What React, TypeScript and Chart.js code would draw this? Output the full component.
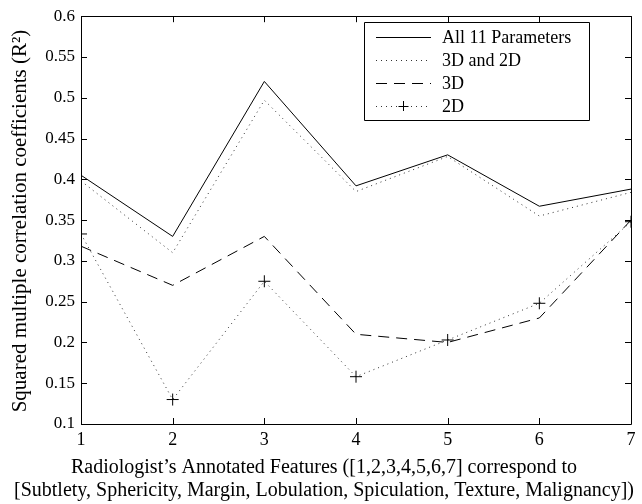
import React, { useEffect, useRef } from "react";
import { Chart, registerables } from "chart.js";

Chart.register(...registerables);

const features = [1, 2, 3, 4, 5, 6, 7];
const all11 = [0.405, 0.33, 0.52, 0.392, 0.43, 0.367, 0.388];
const d3and2 = [0.398, 0.31, 0.497, 0.385, 0.428, 0.355, 0.384];
const d3 = [0.318, 0.27, 0.33, 0.21, 0.2, 0.23, 0.35];
const d2 = [0.333, 0.13, 0.275, 0.158, 0.203, 0.248, 0.348];
const seriesNames = ["All 11 Parameters", "3D and 2D", "3D", "2D"];
const yTitle = "Squared multiple correlation coefficients (R²)";
const xTitle = [
  "Radiologist’s Annotated Features ([1,2,3,4,5,6,7] correspond to",
  "[Subtlety, Sphericity, Margin, Lobulation, Spiculation, Texture, Malignancy])",
];

const FONT = "'Liberation Serif', 'Times New Roman', serif";

const boxPlugin = {
  id: "boxTicks",
  afterDraw(chart: any) {
    const ctx = chart.ctx;
    const { left, right, top, bottom } = chart.chartArea;
    ctx.save();
    ctx.strokeStyle = "#000";
    ctx.lineWidth = 1;
    ctx.beginPath();
    ctx.rect(Math.round(left) + 0.5, Math.round(top) + 0.5, Math.round(right - left), Math.round(bottom - top));
    ctx.stroke();
    const ys = chart.scales.y;
    const xs = chart.scales.x;
    const tl = 6;
    ctx.beginPath();
    ys.ticks.forEach((t: any) => {
      const y = Math.round(ys.getPixelForValue(t.value)) + 0.5;
      ctx.moveTo(left, y);
      ctx.lineTo(left + tl, y);
      ctx.moveTo(right, y);
      ctx.lineTo(right - tl, y);
    });
    xs.ticks.forEach((t: any) => {
      const x = Math.round(xs.getPixelForValue(t.value)) + 0.5;
      ctx.moveTo(x, bottom);
      ctx.lineTo(x, bottom - tl);
      ctx.moveTo(x, top);
      ctx.lineTo(x, top + tl);
    });
    ctx.stroke();

    // axis titles
    ctx.fillStyle = "#000";
    ctx.font = `20px ${FONT}`;
    ctx.textAlign = "center";
    ctx.textBaseline = "middle";
    ctx.fillText(xTitle[0], 324, 468);
    ctx.fillText(xTitle[1], 324, 491);
    ctx.save();
    ctx.font = `21px ${FONT}`;
    ctx.translate(20, 221);
    ctx.rotate(-Math.PI / 2);
    ctx.fillText(yTitle, 0, 0);
    ctx.restore();

    // legend
    const lx = 364, ly = 22, lw = 225, lh = 98;
    ctx.fillStyle = "#fff";
    ctx.fillRect(lx, ly, lw, lh);
    ctx.beginPath();
    ctx.rect(lx + 0.5, ly + 0.5, lw, lh);
    ctx.stroke();
    ctx.font = `18px ${FONT}`;
    ctx.textBaseline = "middle";
    ctx.textAlign = "left";
    chart.data.datasets.forEach((ds: any, i: number) => {
      const y = ly + 15 + i * 23;
      ctx.save();
      ctx.strokeStyle = ds.borderColor;
      ctx.lineWidth = ds.borderWidth;
      ctx.setLineDash(ds.borderDash || []);
      ctx.beginPath();
      ctx.moveTo(376, Math.round(y) + 0.5);
      ctx.lineTo(431, Math.round(y) + 0.5);
      ctx.stroke();
      ctx.restore();
      if (ds.pointStyle === "cross") {
        ctx.beginPath();
        ctx.moveTo(403.5 - 5, Math.round(y) + 0.5);
        ctx.lineTo(403.5 + 5, Math.round(y) + 0.5);
        ctx.moveTo(403.5, y - 5);
        ctx.lineTo(403.5, y + 5);
        ctx.stroke();
      }
      ctx.fillStyle = "#000";
      ctx.fillText(ds.label, 442, y + 1);
    });
    ctx.restore();
  },
};

export default function App() {
  const ref = useRef<HTMLCanvasElement>(null);
  useEffect(() => {
    const toPts = (arr: number[]) => arr.map((v, i) => ({ x: features[i], y: v }));
    const chart = new Chart(ref.current!, {
      type: "line",
      data: {
        datasets: [
          { label: seriesNames[0], data: toPts(all11), borderColor: "#000", borderWidth: 1, pointRadius: 0, borderDash: [] },
          { label: seriesNames[1], data: toPts(d3and2), borderColor: "#333", borderWidth: 1, pointRadius: 0, borderDash: [1, 4] },
          { label: seriesNames[2], data: toPts(d3), borderColor: "#000", borderWidth: 1, pointRadius: 0, borderDash: [11, 7] },
          {
            label: seriesNames[3], data: toPts(d2), borderColor: "#333", borderWidth: 1, borderDash: [1, 4],
            pointStyle: "cross", pointRadius: 6, pointBorderColor: "#000", pointBorderWidth: 1,
          },
        ] as any,
      },
      options: {
        animation: false,
        responsive: false,
        layout: { padding: { top: 15, right: 11, left: 0, bottom: 0 } },
        plugins: { legend: { display: false }, tooltip: { enabled: false } },
        elements: { line: { tension: 0 } },
        scales: {
          x: {
            type: "linear",
            min: 1,
            max: 7,
            ticks: { stepSize: 1, color: "#000", font: { family: FONT, size: 18 }, padding: 5 },
            grid: { display: false, drawTicks: false },
            border: { display: false },
            title: { display: false },
            afterFit: (s: any) => { s.height = 80; },
          },
          y: {
            min: 0.1,
            max: 0.6,
            ticks: {
              stepSize: 0.05, color: "#000", font: { family: FONT, size: 17 }, padding: 6,
              callback: (v: any) => String(Number(Number(v).toFixed(2))),
            },
            grid: { display: false, drawTicks: false },
            border: { display: false },
            title: { display: false },
            afterFit: (s: any) => { s.width = 81; },
          },
        },
      } as any,
      plugins: [boxPlugin],
    });
    return () => chart.destroy();
  }, []);
  return (
    <div style={{ position: "fixed", left: 0, top: 0, width: 642, height: 504, background: "#fff" }}>
      <canvas ref={ref} width={642} height={504} style={{ width: 642, height: 504 }} />
    </div>
  );
}
